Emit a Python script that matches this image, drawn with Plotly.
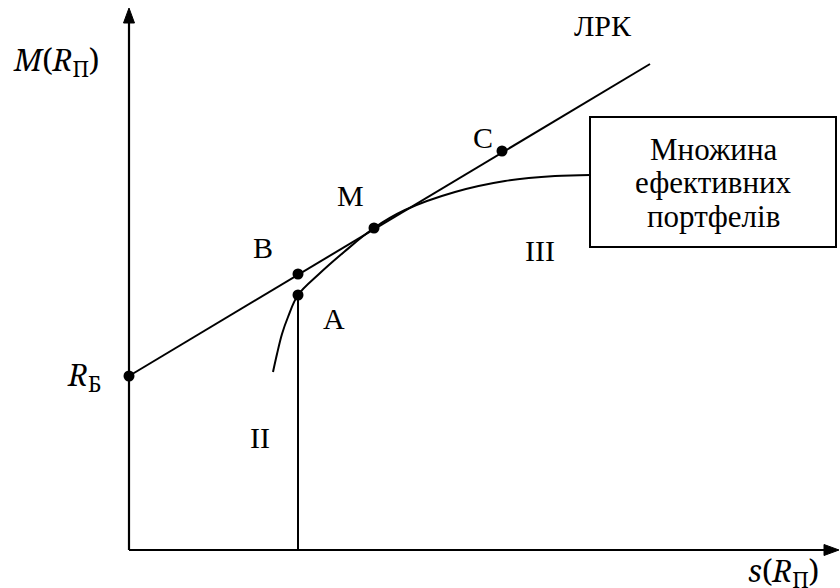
import plotly.graph_objects as go

# efficient frontier
frontier_s = [144, 148, 153, 159, 169, 190, 215, 245, 276, 326, 376, 426, 461]
frontier_m = [178, 196, 216, 233, 255, 276, 298, 322, 340, 358, 369, 374, 375]

# capital market line (ЛРК)
cml_s = [0, 521]
cml_m = [174, 486]

# marked portfolios
point_names = ["R_Б", "B", "A", "M", "C"]
point_s = [0, 169, 169, 245, 373]
point_m = [174, 276, 255, 322, 399]

box_lines = ["Множина", "ефективних", "портфелів"]

# axes extent
x_end = 710
y_end = 542

serif = "Liberation Serif"
math_family = "Noto Serif"
fig = go.Figure()

# vertical line from A down to the axis
fig.add_trace(go.Scatter(x=[point_s[2], point_s[2]], y=[0, point_m[2]], mode="lines",
                         line=dict(color="black", width=2)))

# frontier
fig.add_trace(go.Scatter(x=frontier_s, y=frontier_m, mode="lines",
                         line=dict(color="black", width=2, shape="spline", smoothing=1.0)))

# ЛРК
fig.add_trace(go.Scatter(x=cml_s, y=cml_m, mode="lines",
                         line=dict(color="black", width=2)))

# axes
fig.add_trace(go.Scatter(x=[0, 0, None, 0, x_end - 8], y=[y_end - 8, 0, None, 0, 0], mode="lines",
                         line=dict(color="black", width=2.2)))
# arrow heads
hl, hw = 15, 5.5
fig.add_trace(go.Scatter(x=[0, -hw, hw, 0], y=[y_end, y_end - hl, y_end - hl, y_end],
                         mode="lines", fill="toself", fillcolor="black",
                         line=dict(color="black", width=1)))
fig.add_trace(go.Scatter(x=[x_end, x_end - hl, x_end - hl, x_end], y=[0, hw, -hw, 0],
                         mode="lines", fill="toself", fillcolor="black",
                         line=dict(color="black", width=1)))

# points
fig.add_trace(go.Scatter(x=point_s, y=point_m, mode="markers",
                         marker=dict(color="black", size=11)))

# box "Множина ефективних портфелів"
fig.add_shape(type="rect", x0=461, x1=707, y0=303, y1=433,
              line=dict(color="black", width=2), fillcolor="white", layer="above")
for i, txt in enumerate(box_lines):
    fig.add_annotation(x=584, y=401 - 33.5 * i, text=txt, showarrow=False,
                       font=dict(family=serif, size=31, color="black"), yanchor="middle")

labels = [
    ("ЛРК", 474, 525),
    ("C", 354, 413),
    ("M", 221, 355),
    ("B", 134, 303),
    ("A", 205, 232),
    ("III", 411, 300),
    ("II", 131, 113),
]
for txt, lx, ly in labels:
    fig.add_annotation(x=lx, y=ly, text=txt, showarrow=False,
                       font=dict(family=serif, size=30, color="black"))

math_font = dict(family=math_family, size=30, color="black")
fig.add_annotation(x=-73, y=489, text="<i>M</i>(<i>R</i><sub>П</sub>)", showarrow=False, font=math_font)
fig.add_annotation(x=-45, y=174, text="<i>R</i><sub>Б</sub>", showarrow=False, font=math_font)
fig.add_annotation(x=654, y=-22, text="<i>s</i>(<i>R</i><sub>П</sub>)", showarrow=False, font=math_font)

fig.update_layout(
    width=840, height=588,
    margin=dict(l=0, r=0, t=0, b=0),
    plot_bgcolor="white", paper_bgcolor="white",
    showlegend=False,
    xaxis=dict(range=[-129, 711], visible=False, fixedrange=True),
    yaxis=dict(range=[-38, 550], visible=False, fixedrange=True),
)

fig.write_html("out.html", config={"displayModeBar": False},
               post_script="document.body.style.margin='0';")
